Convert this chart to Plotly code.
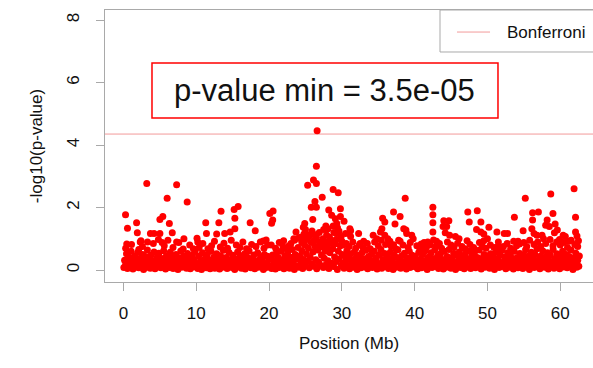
import plotly.graph_objects as go

# ---- data: (position in Mb, -log10 p-value) ----
snps_00_10 = [
    (0.05,0.08),(0.15,0.31),(0.3,0.17),(0.42,0.52),(0.55,0.05),(0.68,0.24),(0.8,0.41),(0.93,0.12),(1.05,0.6),(1.18,0.28),
    (1.3,0.03),(1.45,0.19),(1.58,0.45),(1.7,0.1),(1.84,0.33),(1.96,0.56),(2.1,0.07),(2.23,0.22),(2.37,0.38),(2.5,0.14),
    (2.62,0.5),(2.76,0.02),(2.9,0.27),(3.02,0.43),(3.15,0.09),(3.28,0.64),(3.4,0.2),(3.55,0.35),(3.68,0.06),(3.8,0.48),
    (3.95,0.16),(4.07,0.29),(4.2,0.58),(4.33,0.04),(4.47,0.23),(4.6,0.4),(4.73,0.11),(4.86,0.54),(5.0,0.26),(5.12,0.07),
    (5.25,0.37),(5.4,0.15),(5.52,0.62),(5.65,0.3),(5.78,0.03),(5.9,0.46),(6.04,0.18),(6.17,0.33),(6.3,0.08),(6.43,0.57),
    (6.56,0.21),(6.7,0.42),(6.82,0.05),(6.95,0.3),(7.08,0.13),(7.22,0.5),(7.35,0.25),(7.48,0.02),(7.6,0.39),(7.74,0.17),
    (7.87,0.61),(8.0,0.09),(8.13,0.28),(8.26,0.44),(8.4,0.12),(8.53,0.34),(8.66,0.06),(8.8,0.53),(8.92,0.2),(9.05,0.37),
    (9.18,0.04),(9.32,0.25),(9.45,0.47),(9.58,0.1),(9.7,0.32),(9.84,0.59),(9.96,0.14),
    (0.3,0.7),(1.1,0.82),(2.6,0.75),(3.3,0.9),(4.1,0.85),(5.6,0.78),(6.1,0.95),(6.8,0.72),(7.6,0.88),(8.3,1.0),
    (9.1,0.8),(9.6,0.68),(2.1,0.66),(4.8,0.98),(5.3,0.88),(7.3,0.9),(8.2,0.67),(2.3,0.9),
    (3.2,2.77),(7.3,2.73),(6.0,2.30),(8.75,2.18),(0.28,1.77),(1.8,1.51),(0.55,1.34),(5.0,1.62),(5.4,1.71),(6.3,1.49),
    (1.9,1.19),(6.7,1.19),(3.7,1.17),(4.2,1.17),(5.0,1.17),(0.45,0.83),(2.4,0.94),
]
snps_10_20 = [
    (10.08,0.21),(10.2,0.05),(10.33,0.44),(10.46,0.16),(10.6,0.3),(10.72,0.02),(10.85,0.55),(10.98,0.24),(11.1,0.11),(11.24,0.38),
    (11.37,0.07),(11.5,0.49),(11.63,0.19),(11.76,0.33),(11.9,0.04),(12.02,0.6),(12.15,0.27),(12.28,0.13),(12.42,0.41),(12.55,0.06),
    (12.68,0.22),(12.8,0.52),(12.94,0.15),(13.07,0.35),(13.2,0.03),(13.33,0.46),(13.46,0.2),(13.6,0.09),(13.72,0.63),(13.85,0.29),
    (13.98,0.12),(14.1,0.4),(14.24,0.05),(14.37,0.25),(14.5,0.56),(14.63,0.17),(14.76,0.34),(14.9,0.08),(15.02,0.47),(15.15,0.22),
    (15.28,0.02),(15.42,0.36),(15.55,0.14),(15.68,0.58),(15.8,0.26),(15.93,0.1),(16.06,0.43),(16.2,0.06),(16.33,0.31),(16.46,0.18),
    (16.6,0.51),(16.72,0.03),(16.85,0.28),(16.98,0.42),(17.12,0.11),(17.25,0.62),(17.38,0.23),(17.5,0.07),(17.64,0.37),(17.77,0.15),
    (17.9,0.48),(18.03,0.04),(18.16,0.3),(18.3,0.19),(18.43,0.55),(18.56,0.09),(18.7,0.26),(18.82,0.4),(18.95,0.13),(19.08,0.33),
    (19.22,0.02),(19.35,0.5),(19.48,0.21),(19.6,0.08),(19.74,0.44),(19.87,0.16),(19.98,0.35),
    (10.4,0.72),(10.9,0.85),(11.6,0.68),(12.1,0.78),(12.5,0.92),(13.3,0.74),(13.8,0.86),(14.3,0.7),(14.8,0.95),(15.5,0.8),
    (16.0,0.72),(16.4,0.9),(16.9,0.68),(17.6,0.82),(18.2,0.75),(18.8,0.9),(19.3,0.7),(19.8,0.8),
    (10.1,1.02),(10.2,0.9),(11.3,1.51),(11.4,1.17),(12.8,1.15),(13.1,1.51),(13.4,1.88),(13.9,1.17),(14.65,1.22),(15.3,1.32),
    (15.2,1.94),(15.75,2.03),(15.3,1.66),(17.4,1.51),(18.1,1.26),(19.2,0.93),(19.6,0.96),
]
snps_20_30 = [
    (20.1,0.1),(20.22,0.36),(20.35,0.05),(20.48,0.48),(20.6,0.2),(20.74,0.29),(20.87,0.03),(21.0,0.54),(21.12,0.17),(21.25,0.4),
    (21.38,0.08),(21.52,0.25),(21.65,0.6),(21.78,0.13),(21.9,0.33),(22.04,0.04),(22.17,0.45),(22.3,0.22),(22.43,0.1),(22.56,0.57),
    (22.7,0.3),(22.82,0.06),(22.95,0.41),(23.08,0.18),(23.2,0.66),(23.34,0.27),(23.47,0.02),(23.6,0.5),(23.72,0.14),(23.86,0.36),
    (23.98,0.72),(24.1,0.09),(24.24,0.44),(24.37,0.24),(24.5,0.62),(24.62,0.05),(24.76,0.34),(24.88,0.8),(25.0,0.16),(25.14,0.52),
    (25.26,0.28),(25.4,0.7),(25.52,0.07),(25.66,0.4),(25.78,0.88),(25.9,0.2),(26.04,0.58),(26.16,0.12),(26.3,0.76),(26.42,0.33),
    (26.55,0.04),(26.68,0.64),(26.8,0.26),(26.94,0.9),(27.06,0.15),(27.2,0.48),(27.32,0.74),(27.45,0.08),(27.58,0.38),(27.7,0.6),
    (27.84,0.18),(27.96,0.82),(28.1,0.3),(28.22,0.05),(28.36,0.55),(28.48,0.95),(28.6,0.22),(28.74,0.68),(28.86,0.11),(29.0,0.42),
    (29.12,0.84),(29.26,0.27),(29.38,0.02),(29.52,0.6),(29.64,0.35),(29.78,0.78),(29.9,0.14),(30.04,0.5),
    (20.3,0.8),(20.9,0.7),(21.4,0.88),(21.9,0.75),(22.4,0.68),(23.0,0.85),(23.5,0.95),(24.3,1.05),(24.8,1.15),(25.2,0.98),
    (25.6,1.1),(25.9,1.25),(26.5,1.05),(26.9,1.2),(27.4,1.0),(27.9,1.12),(28.3,1.05),(28.9,1.2),(29.2,0.98),(29.6,1.25),
    (30.0,0.92),(24.5,0.88),(26.1,0.92),(27.1,0.82),(28.0,0.7),(29.4,1.35),(30.2,0.8),(25.0,1.3),(27.5,1.3),
    (20.1,1.81),(20.55,1.89),(20.5,1.6),(20.35,1.5),(22.0,0.94),(22.7,0.77),(23.4,1.0),(23.7,1.22),(24.0,1.02),(24.7,0.96),
    (24.7,1.37),(24.9,1.49),(25.3,1.13),(25.3,2.71),(25.8,2.01),(26.0,1.17),(26.0,1.62),(26.1,2.88),(26.3,0.96),(26.3,2.19),
    (26.5,2.77),(26.5,2.01),(26.5,3.32),(26.6,4.456),(27.3,2.33),(27.7,0.9),(27.8,1.41),(28.1,1.32),(28.2,1.92),(28.6,1.75),
    (28.7,0.85),(28.8,1.41),(28.8,2.58),(29.1,1.64),(29.3,1.49),(29.3,1.17),(29.5,2.47),(29.8,1.71),(29.8,1.96),(29.9,1.07),
]
snps_30_40 = [
    (30.16,0.22),(30.3,0.06),(30.42,0.45),(30.55,0.3),(30.68,0.62),(30.8,0.13),(30.94,0.38),(31.06,0.04),(31.2,0.52),(31.32,0.2),
    (31.46,0.33),(31.58,0.09),(31.72,0.58),(31.84,0.25),(31.98,0.41),(32.1,0.02),(32.24,0.16),(32.36,0.47),(32.5,0.28),(32.62,0.07),
    (32.76,0.55),(32.88,0.19),(33.02,0.36),(33.14,0.1),(33.28,0.63),(33.4,0.24),(33.54,0.04),(33.66,0.43),(33.8,0.15),(33.92,0.31),
    (34.06,0.5),(34.18,0.08),(34.32,0.27),(34.44,0.6),(34.58,0.12),(34.7,0.39),(34.84,0.03),(34.96,0.22),(35.1,0.48),(35.22,0.17),
    (35.36,0.66),(35.48,0.06),(35.62,0.34),(35.74,0.2),(35.88,0.53),(36.0,0.11),(36.14,0.29),(36.26,0.44),(36.4,0.05),(36.52,0.24),
    (36.66,0.57),(36.78,0.14),(36.92,0.37),(37.04,0.02),(37.18,0.49),(37.3,0.21),(37.44,0.09),(37.56,0.4),(37.7,0.65),(37.82,0.16),
    (37.96,0.3),(38.08,0.06),(38.22,0.46),(38.34,0.23),(38.48,0.12),(38.6,0.54),(38.74,0.28),(38.86,0.03),(39.0,0.38),(39.12,0.18),
    (39.26,0.6),(39.38,0.08),(39.52,0.32),(39.64,0.47),(39.78,0.13),(39.9,0.25),
    (30.6,0.85),(31.0,0.75),(31.5,0.9),(31.9,0.7),(32.4,0.8),(32.9,0.72),(33.5,0.85),(33.9,0.68),(34.5,0.9),(35.0,0.78),
    (35.4,0.95),(36.0,0.82),(36.8,0.75),(37.4,0.68),(37.8,0.95),(38.4,0.8),(39.1,0.72),(39.4,0.88),
    (30.3,1.56),(30.5,1.17),(31.1,1.32),(31.2,1.07),(31.2,1.26),(32.3,1.17),(32.5,0.85),(33.0,0.92),(34.3,1.11),(34.8,1.0),
    (35.3,1.22),(35.5,1.32),(35.6,1.66),(35.9,1.54),(35.9,1.11),(36.3,1.0),(36.6,0.92),(37.1,1.86),(37.1,0.81),(37.3,1.47),
    (38.0,1.71),(38.0,0.92),(38.5,1.32),(38.7,2.30),(38.8,1.28),(38.9,1.17),(39.6,1.11),(39.8,1.0),
]
snps_40_50 = [
    (40.04,0.44),(40.16,0.1),(40.3,0.28),(40.42,0.04),(40.56,0.56),(40.68,0.19),(40.82,0.35),(40.94,0.07),(41.08,0.5),(41.2,0.23),
    (41.34,0.13),(41.46,0.62),(41.6,0.31),(41.72,0.02),(41.86,0.41),(41.98,0.17),(42.12,0.26),(42.24,0.55),(42.38,0.08),(42.5,0.37),
    (42.64,0.2),(42.76,0.64),(42.9,0.11),(43.02,0.3),(43.16,0.46),(43.28,0.05),(43.42,0.22),(43.54,0.52),(43.68,0.14),(43.8,0.34),
    (43.94,0.03),(44.06,0.6),(44.2,0.25),(44.32,0.09),(44.46,0.43),(44.58,0.18),(44.72,0.66),(44.84,0.29),(44.98,0.06),(45.1,0.39),
    (45.24,0.15),(45.36,0.53),(45.5,0.24),(45.62,0.02),(45.76,0.47),(45.88,0.12),(46.02,0.32),(46.14,0.58),(46.28,0.08),(46.4,0.27),
    (46.54,0.42),(46.66,0.16),(46.8,0.04),(46.92,0.5),(47.06,0.21),(47.18,0.36),(47.32,0.1),(47.44,0.61),(47.58,0.26),(47.7,0.05),
    (47.84,0.45),(47.96,0.18),(48.1,0.33),(48.22,0.55),(48.36,0.07),(48.48,0.23),(48.62,0.4),(48.74,0.13),(48.88,0.64),(49.0,0.28),
    (49.14,0.03),(49.26,0.37),(49.4,0.19),(49.52,0.5),(49.66,0.09),(49.78,0.31),(49.92,0.46),
    (40.3,0.78),(40.7,0.7),(41.3,0.88),(41.6,0.72),(42.1,0.8),(42.9,0.75),(43.4,0.85),(43.7,0.7),(44.5,0.9),(45.0,0.8),
    (45.4,0.72),(45.9,0.86),(46.5,0.75),(46.9,0.68),(47.6,0.82),(48.1,0.72),(48.9,0.88),(49.3,0.75),(49.8,0.7),
    (40.9,0.83),(41.8,0.9),(42.5,2.01),(42.5,1.77),(42.5,1.51),(42.5,1.22),(42.6,0.96),(43.0,0.92),(43.9,1.39),(44.4,1.39),
    (44.0,1.58),(44.7,1.58),(44.2,1.19),(44.8,1.11),(45.6,1.07),(46.1,1.0),(47.2,0.94),(47.3,1.86),(48.6,1.9),(47.5,1.54),
    (49.1,1.54),(48.5,1.3),(49.1,1.22),(49.5,1.15),(49.5,0.94),
]
snps_50_63 = [
    (50.04,0.15),(50.18,0.38),(50.3,0.06),(50.44,0.52),(50.56,0.24),(50.7,0.12),(50.82,0.45),(50.96,0.02),(51.08,0.3),(51.22,0.58),
    (51.34,0.17),(51.48,0.35),(51.6,0.08),(51.74,0.48),(51.86,0.21),(52.0,0.63),(52.12,0.11),(52.26,0.27),(52.38,0.42),(52.52,0.04),
    (52.64,0.2),(52.78,0.55),(52.9,0.32),(53.04,0.09),(53.16,0.46),(53.3,0.18),(53.42,0.36),(53.56,0.03),(53.68,0.6),(53.82,0.25),
    (53.94,0.13),(54.08,0.4),(54.2,0.07),(54.34,0.29),(54.46,0.53),(54.6,0.16),(54.72,0.34),(54.86,0.05),(54.98,0.47),(55.12,0.22),
    (55.24,0.65),(55.38,0.1),(55.5,0.31),(55.64,0.44),(55.76,0.02),(55.9,0.26),(56.02,0.57),(56.16,0.14),(56.28,0.38),(56.42,0.08),
    (56.54,0.5),(56.68,0.23),(56.8,0.68),(56.94,0.12),(57.06,0.33),(57.2,0.04),(57.32,0.45),(57.46,0.19),(57.58,0.62),(57.72,0.28),
    (57.84,0.09),(57.98,0.41),(58.1,0.16),(58.24,0.55),(58.36,0.03),(58.5,0.3),(58.62,0.48),(58.76,0.11),(58.88,0.24),(59.02,0.66),
    (59.14,0.06),(59.28,0.37),(59.4,0.2),(59.54,0.52),(59.66,0.13),(59.8,0.32),(59.92,0.04),(60.06,0.46),(60.18,0.22),(60.32,0.6),
    (60.44,0.1),(60.58,0.35),(60.7,0.17),(60.84,0.5),(60.96,0.07),(61.1,0.28),(61.22,0.43),(61.36,0.14),(61.48,0.64),(61.62,0.25),
    (61.74,0.02),(61.88,0.39),(62.0,0.18),(62.14,0.54),(62.26,0.09),(62.4,0.31),(62.55,0.12),(62.62,0.45),
    (50.4,0.8),(50.9,0.72),(51.5,0.9),(52.2,0.75),(52.7,0.85),(53.2,0.7),(53.6,0.92),(54.0,0.78),(55.0,0.88),(55.4,0.75),
    (55.8,0.95),(56.4,0.82),(56.9,0.9),(57.3,0.75),(58.0,0.85),(58.6,0.98),(59.0,0.78),(59.5,0.9),(60.0,0.8),(60.5,0.88),
    (61.0,0.72),(61.5,0.95),(62.0,0.82),(62.4,0.75),
    (50.0,1.0),(50.2,1.37),(51.3,1.22),(52.3,1.17),(52.75,1.17),(51.3,0.73),(51.7,0.73),(53.7,1.69),(55.2,2.30),(58.7,2.43),
    (61.9,2.6),(56.2,1.83),(57.0,1.86),(59.0,1.81),(62.1,1.69),(56.2,1.6),(58.2,1.6),(54.9,1.26),(56.1,1.32),(56.4,1.17),
    (56.8,1.11),(58.0,1.43),(58.5,1.39),(59.3,1.47),(59.6,1.28),(59.2,1.19),(62.1,1.22),(62.3,1.09),(62.5,0.94),(60.4,1.11),
    (60.7,1.07),(57.5,1.11),(57.7,1.0),(54.2,0.92),(54.4,0.83),(59.9,0.98),(61.2,0.92),
]
bonferroni_threshold = 4.35
x_ticks = [0, 10, 20, 30, 40, 50, 60]
y_ticks = [0, 2, 4, 6, 8]

all_snps = snps_00_10 + snps_10_20 + snps_20_30 + snps_30_40 + snps_40_50 + snps_50_63
pos_mb = [p for p, _ in all_snps]
neg_log_p = [v for _, v in all_snps]
p_min = 10 ** (-max(neg_log_p))

FONT = "Liberation Sans, Arial, Helvetica, sans-serif"
GREY = "#a9a9a9"

fig = go.Figure()
fig.add_trace(go.Scatter(
    x=pos_mb, y=neg_log_p, mode="markers",
    marker=dict(color="#ff0000", size=7, line=dict(width=0)),
    showlegend=False, hoverinfo="x+y",
))

# Bonferroni line
fig.add_shape(type="line", xref="paper", x0=0, x1=1, yref="y",
              y0=bonferroni_threshold, y1=bonferroni_threshold,
              line=dict(color="#f29a9a", width=1), layer="below")

# p-value min box
fig.add_shape(type="rect", xref="paper", yref="paper",
              x0=0.0963, x1=0.8053, y0=0.603, y1=0.805,
              line=dict(color="#ff0000", width=1.5), fillcolor="white")
fig.add_annotation(xref="paper", yref="paper", x=0.4508, y=0.704,
                   text="p-value min = %.1e" % p_min, showarrow=False,
                   xanchor="center", yanchor="middle",
                   font=dict(family=FONT, size=31, color="#111111"))

# legend box
fig.add_shape(type="rect", xref="paper", yref="paper",
              x0=0.6865, x1=1.05, y0=0.8456, y1=1.0,
              line=dict(color=GREY, width=1), fillcolor="white")
fig.add_shape(type="line", xref="paper", yref="paper",
              x0=0.7213, x1=0.789, y0=0.919, y1=0.919,
              line=dict(color="#f29a9a", width=1))
fig.add_annotation(xref="paper", yref="paper", x=0.8197, y=0.919,
                   text="Bonferroni", showarrow=False,
                   xanchor="left", yanchor="middle",
                   font=dict(family=FONT, size=17, color="#111111"))

fig.update_layout(
    width=593, height=368,
    margin=dict(l=105, r=0, t=10, b=86),
    paper_bgcolor="white", plot_bgcolor="white",
    font=dict(family=FONT, size=17, color="#111111"),
    xaxis=dict(
        range=[-2.54, 64.5], tickvals=x_ticks, ticks="outside", ticklen=8,
        tickcolor=GREY, showline=True, linecolor=GREY, linewidth=1, mirror=True,
        showgrid=False, zeroline=False, ticklabelstandoff=8,
        title=dict(text="Position (Mb)", standoff=14, font=dict(size=17)),
        tickfont=dict(size=17),
    ),
    yaxis=dict(
        range=[-0.384, 8.32], tickvals=y_ticks, ticks="outside", ticklen=8,
        tickcolor=GREY, showline=True, linecolor=GREY, linewidth=1, mirror=False,
        showgrid=False, zeroline=False, tickangle=-90, ticklabelstandoff=10,
        title=dict(text="-log10(p-value)", standoff=17, font=dict(size=17)),
        tickfont=dict(size=17),
    ),
)

fig.write_html("out.html")
